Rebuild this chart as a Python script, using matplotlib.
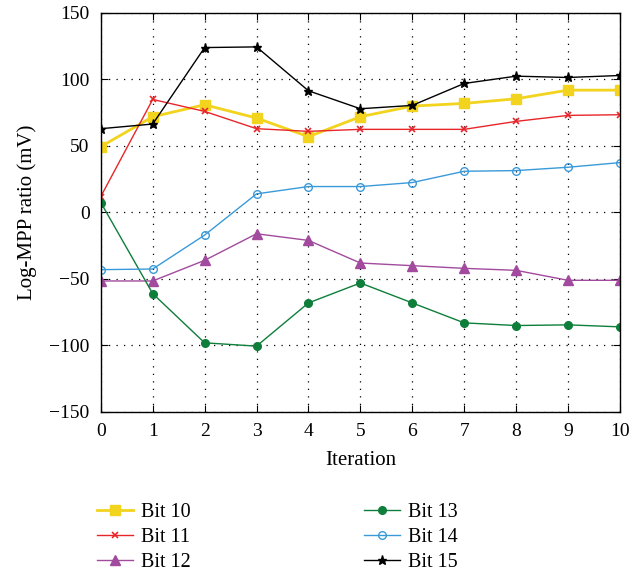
import matplotlib
matplotlib.use("Agg")
import matplotlib.pyplot as plt

iterations = list(range(11))
bit10 = [49.5, 72, 81, 71, 57, 72, 80, 82, 85.5, 92, 92]
bit11 = [12, 85, 76, 63, 61, 62.5, 62.5, 62.5, 68.5, 73, 73.5]
bit12 = [-51.5, -51.5, -36, -16, -21, -38, -40, -42, -43.5, -51, -51]
bit13 = [7.5, -61, -98, -100.5, -68, -53, -68, -83, -85, -84.5, -86]
bit14 = [-43, -42.5, -17, 14, 19.5, 19.5, 22.5, 31, 31.5, 34, 37.5]
bit15 = [63, 66.5, 124, 124.5, 91.5, 78, 80.5, 97, 102.5, 101.5, 103]
labels = ["Bit 10", "Bit 11", "Bit 12", "Bit 13", "Bit 14", "Bit 15"]
yticks = [-150, -100, -50, 0, 50, 100, 150]

plt.rcParams['font.family'] = ['Liberation Serif', 'DejaVu Serif']

fig = plt.figure(figsize=(6.3, 5.77), dpi=100)
ax = fig.add_axes([0.160, 0.286, 0.824, 0.6915])

styles = [
    dict(color='#F2D31E', marker='s', markersize=6.5, lw=2.0),
    dict(color='#E8262A', marker='x', markersize=4.5, lw=1.0, mew=1.2),
    dict(color='#A24A9E', marker='^', markersize=6.5, lw=1.0),
    dict(color='#0E7E3B', marker='o', markersize=5.5, lw=1.0),
    dict(color='#3A9AD9', marker='o', markersize=5.5, lw=1.0, mfc='none', mew=1.0),
    dict(color='black', marker='*', markersize=6.5, lw=1.0),
]
series = [bit10, bit11, bit12, bit13, bit14, bit15]
for s, lab, st in zip(series, labels, styles):
    ax.plot(iterations, s, label=lab, **st)

ax.set_xlim(0, 10)
ax.set_ylim(-150, 150)
ax.set_xticks(iterations)
ax.set_yticks(yticks)
ax.grid(True, color='black', linestyle=(0, (1, 5)), linewidth=0.9)
ax.tick_params(direction='in', top=True, right=True, labelsize=14, length=5)
ax.tick_params(axis='x', pad=8)
ax.tick_params(axis='y', pad=8)
for sp in ax.spines.values():
    sp.set_linewidth(1.0)
ax.set_xlabel("Iteration", fontsize=15, labelpad=8)
ax.set_ylabel("Log-MPP ratio (mV)", fontsize=15, labelpad=9)

handles, labs = ax.get_legend_handles_labels()
fig.legend(handles, labs, ncol=2, loc='upper left', bbox_to_anchor=(0.125, 0.159),
           frameon=False, fontsize=14.5, handlelength=1.8, columnspacing=8.6,
           labelspacing=0.27, handletextpad=0.4, bbox_transform=fig.transFigure)

fig.savefig("out.png", dpi=100)
